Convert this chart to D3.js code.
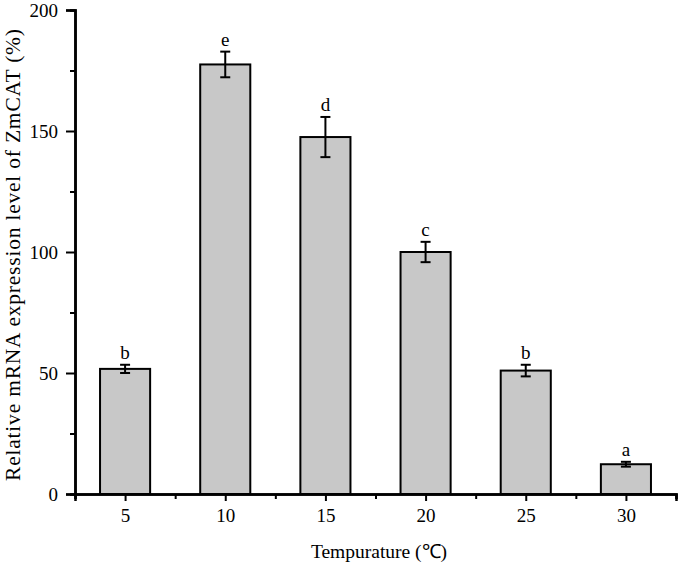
<!DOCTYPE html>
<html>
<head>
<meta charset="utf-8">
<script src="https://cdn.jsdelivr.net/npm/d3@7"></script>
<style>
  body { margin: 0; background: #fff; }
  svg text { font-family: "Liberation Serif", "Times New Roman", serif; fill: #000; }
</style>
</head>
<body>
<div id="chart"></div>
<script>
var temps = [5, 10, 15, 20, 25, 30];
var means = [51.7, 177.5, 147.5, 100, 51, 12.3];
var errs = [1.7, 5.3, 8.3, 4.2, 2.4, 1.0];
var letters = ["b", "e", "d", "c", "b", "a"];
var yTicks = [0, 50, 100, 150, 200];

var width = 680, height = 570;
var svg = d3.select("#chart")
  .append("svg")
  .attr("width", width)
  .attr("height", height);

// axis ranges
var x = d3.scaleLinear().domain([2.5, 32.5]).range([75, 676]);
var y = d3.scaleLinear().domain([0, 200]).range([494, 10]);
var barW = x(3.75) - x(2.5);

var g = svg.append("g");

// bars
g.selectAll(".bar")
  .data(temps)
  .enter()
  .append("rect")
  .attr("class", "bar")
  .attr("x", function(d) { return x(d) - barW; })
  .attr("y", function(d, i) { return y(means[i]); })
  .attr("width", barW * 2)
  .attr("height", function(d, i) { return y(0) - y(means[i]); })
  .attr("fill", "#c8c8c8")
  .attr("stroke", "#000")
  .attr("stroke-width", 2);

// error bars
var eb = g.selectAll(".err")
  .data(temps)
  .enter()
  .append("g")
  .attr("class", "err")
  .attr("stroke", "#000")
  .attr("stroke-width", 2);

eb.append("line")
  .attr("x1", function(d) { return x(d); })
  .attr("x2", function(d) { return x(d); })
  .attr("y1", function(d, i) { return y(means[i] + errs[i]); })
  .attr("y2", function(d, i) { return y(means[i] - errs[i]); });
eb.append("line")
  .attr("x1", function(d) { return x(d) - 5; })
  .attr("x2", function(d) { return x(d) + 5; })
  .attr("y1", function(d, i) { return y(means[i] + errs[i]); })
  .attr("y2", function(d, i) { return y(means[i] + errs[i]); });
eb.append("line")
  .attr("x1", function(d) { return x(d) - 5; })
  .attr("x2", function(d) { return x(d) + 5; })
  .attr("y1", function(d, i) { return y(means[i] - errs[i]); })
  .attr("y2", function(d, i) { return y(means[i] - errs[i]); });

// significance letters
g.selectAll(".letter")
  .data(temps)
  .enter()
  .append("text")
  .attr("class", "letter")
  .attr("x", function(d) { return x(d); })
  .attr("y", function(d, i) { return y(means[i] + errs[i]) - 6; })
  .attr("text-anchor", "middle")
  .style("font-size", "19px")
  .text(function(d, i) { return letters[i]; });

// x axis
var xAxis = svg.append("g")
  .attr("transform", "translate(0," + y(0) + ")")
  .call(d3.axisBottom(x).tickValues(temps).tickSize(7).tickPadding(8).tickFormat(d3.format("d")));
xAxis.append("g")
  .call(d3.axisBottom(x).tickValues(d3.range(2.5, 33, 5)).tickSize(5).tickFormat(""));

// y axis
var yAxis = svg.append("g")
  .attr("transform", "translate(" + x(2.5) + ",0)")
  .call(d3.axisLeft(y).tickValues(yTicks).tickSize(9).tickPadding(8));
yAxis.append("g")
  .call(d3.axisLeft(y).tickValues(d3.range(25, 200, 50)).tickSize(5).tickFormat(""));

svg.selectAll(".domain").attr("stroke-width", 2.5);
svg.selectAll(".tick line").attr("stroke-width", 2);
svg.selectAll(".tick text").style("font-size", "19px").style("font-family", "Liberation Serif");

// axis titles
svg.append("text")
  .attr("x", 379)
  .attr("y", 558)
  .attr("text-anchor", "middle")
  .style("font-size", "19.5px")
  .text("Tempurature (\u2103)");

svg.append("text")
  .attr("transform", "translate(20,255) rotate(-90)")
  .attr("text-anchor", "middle")
  .style("font-size", "21.5px")
  .attr("textLength", 452)
  .attr("lengthAdjust", "spacing")
  .text("Relative mRNA expression level of ZmCAT (%)");
</script>
</body>
</html>
